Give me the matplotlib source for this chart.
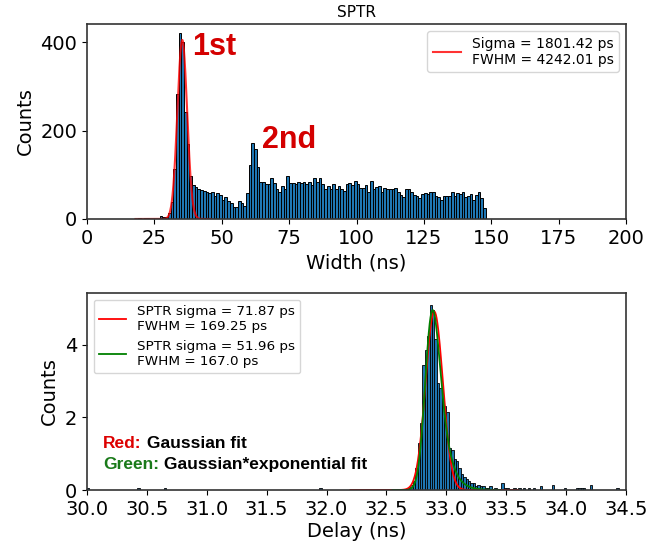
import math
import numpy as np
import matplotlib
matplotlib.use('Agg')
import matplotlib.pyplot as plt

# ---- top panel: width histogram (1 ns bins starting at 18 ns) ----
width_start = 18
width_counts = [1, 2, 0, 3, 2, 0, 0, 0, 0, 7,
                4, 4, 14, 39, 114, 282, 420, 400, 242, 170,
                98, 78, 72, 68, 66, 64, 62, 58, 60, 52,
                58, 54, 44, 50, 40, 36, 26, 27, 40, 36,
                30, 58, 123, 171, 158, 118, 84, 83, 80, 80,
                93, 82, 68, 61, 74, 68, 97, 82, 82, 80,
                84, 82, 83, 80, 83, 78, 93, 83, 93, 80,
                67, 74, 67, 80, 67, 74, 68, 63, 80, 82,
                77, 86, 80, 70, 70, 76, 61, 86, 68, 73,
                74, 61, 70, 67, 68, 68, 70, 62, 55, 49,
                67, 67, 61, 55, 53, 47, 57, 58, 57, 61,
                62, 53, 49, 42, 53, 53, 52, 62, 51, 58,
                57, 62, 49, 52, 57, 44, 55, 62, 48, 25]
width_fit = dict(amp=405, mu=35.35, sigma=1.80142)   # ns
width_label = 'Sigma = 1801.42 ps\nFWHM = 4242.01 ps'

# ---- bottom panel: delay histogram (0.02 ns bins), only non empty bins ----
delay_bin = 0.02
delay_starts = [30.00, 30.42, 30.64, 31.94,
                32.68, 32.70, 32.72, 32.74, 32.76, 32.78, 32.80, 32.82, 32.84, 32.86,
                32.88, 32.90, 32.92, 32.94, 32.96, 32.98, 33.00, 33.02, 33.04, 33.06,
                33.08, 33.10, 33.12, 33.14, 33.16, 33.18, 33.20, 33.22, 33.24, 33.26,
                33.28, 33.30, 33.32, 33.34, 33.36, 33.40, 33.46, 33.48, 33.50, 33.56,
                33.60, 33.64, 33.68, 33.72, 33.78, 33.88, 33.98, 34.08, 34.10, 34.12,
                34.14, 34.20, 34.42]
delay_counts = [1, 1, 1, 1,
                1, 3, 5, 12, 26, 37, 69, 77, 85, 102,
                99, 83, 59, 56, 50, 46, 43, 23, 22, 17,
                16, 12, 9, 7, 6, 5, 4, 4, 2, 3,
                2, 2, 1, 1, 2, 1, 4, 1, 1, 1,
                1, 1, 1, 1, 2, 3, 1, 1, 1, 1,
                1, 3, 1]
delay_unit = 0.05   # density per count
gauss_fit = dict(amp=4.91, mu=32.899, sigma=0.07187)
emg_fit = dict(amp=4.95, peak=32.886, sigma=0.05196, tau=0.065)
gauss_label = 'SPTR sigma = 71.87 ps\nFWHM = 169.25 ps'
emg_label = 'SPTR sigma = 51.96 ps\nFWHM = 167.0 ps'


def gauss(x, amp, mu, sigma):
    return amp * np.exp(-(x - mu) ** 2 / (2 * sigma ** 2))


def emg(x, amp, peak, sigma, tau):
    # exponentially modified gaussian, scaled so its max = amp at x = peak
    lam = 1.0 / tau
    erfc = np.vectorize(math.erfc)
    def shape(t):
        return np.exp(lam / 2 * (lam * sigma ** 2 - 2 * t)) * erfc((lam * sigma ** 2 - t) / (math.sqrt(2) * sigma))
    tt = np.linspace(-0.5, 0.5, 20001)
    s = shape(tt)
    mode = tt[np.argmax(s)]
    return amp * shape(x - peak + mode) / s.max()


plt.rcParams['font.family'] = ['DejaVu Sans']
fig = plt.figure(figsize=(6.58, 5.43), dpi=100)

# top
ax1 = fig.add_axes([0.1322, 0.5967, 0.8192, 0.3591])
edges = width_start + np.arange(len(width_counts))
ax1.bar(edges, width_counts, width=1.0, align='edge', color='#1f77b4',
        edgecolor='black', linewidth=0.7)
xf = np.linspace(18, 46, 600)
ax1.plot(xf, gauss(xf, **width_fit), color='red', lw=1.5, alpha=0.8, label=width_label)
ax1.set_xlim(0, 200)
ax1.set_ylim(0, 441)
ax1.set_xticks(np.arange(0, 201, 25))
ax1.set_yticks([0, 200, 400])
ax1.set_xlabel('Width (ns)', fontsize=14, labelpad=4)
ax1.set_ylabel('Counts', fontsize=14)
ax1.set_title('SPTR', fontsize=11, pad=5)
ax1.tick_params(labelsize=14)
ax1.legend(loc='upper right', fontsize=10)
ax1.text(39, 389, '1st', color='#d40000', fontsize=22, fontweight='bold',
         family='Liberation Sans', va='center', ha='left')
ax1.text(65, 179, '2nd', color='#d40000', fontsize=22, fontweight='bold',
         family='Liberation Sans', va='center', ha='left')

# bottom
ax2 = fig.add_axes([0.1322, 0.0976, 0.8192, 0.3628])
heights = np.array(delay_counts) * delay_unit
ax2.bar(delay_starts, heights, width=delay_bin, align='edge', color='#1f77b4',
        edgecolor='black', linewidth=0.6)
xg = np.linspace(32.2, 33.6, 800)
ax2.plot(xg, gauss(xg, **gauss_fit), color='red', lw=1.3, label=gauss_label)
xe = np.linspace(32.55, 33.45, 800)
ax2.plot(xe, emg(xe, **emg_fit), color='green', lw=1.3, label=emg_label)
ax2.set_xlim(30.0, 34.5)
ax2.set_ylim(0, 5.42)
ax2.set_xticks(np.arange(30.0, 34.51, 0.5))
ax2.set_xticklabels(['%.1f' % v for v in np.arange(30.0, 34.51, 0.5)])
ax2.set_yticks([0, 2, 4])
ax2.set_xlabel('Delay (ns)', fontsize=14, labelpad=2)
ax2.set_ylabel('Counts', fontsize=14)
ax2.tick_params(labelsize=14)
ax2.legend(loc='upper left', fontsize=9.7)

t1 = ax2.text(0.03, 0.215, 'Red:', color='#dd0000', fontsize=12.5, fontweight='bold',
              family='Liberation Sans', transform=ax2.transAxes)
ax2.annotate(' Gaussian fit', xy=(1, 0), xycoords=t1, va='bottom', fontsize=12.5,
             fontweight='bold', family='Liberation Sans', color='black')
t2 = ax2.text(0.03, 0.105, 'Green:', color='#1a7a1a', fontsize=12.5, fontweight='bold',
              family='Liberation Sans', transform=ax2.transAxes)
ax2.annotate(' Gaussian*exponential fit', xy=(1, 0), xycoords=t2, va='bottom',
             fontsize=12.5, fontweight='bold', family='Liberation Sans', color='black')

for ax in (ax1, ax2):
    for s in ax.spines.values():
        s.set_linewidth(1.2)
        s.set_color('#333333')

fig.savefig('out.png', dpi=100)
